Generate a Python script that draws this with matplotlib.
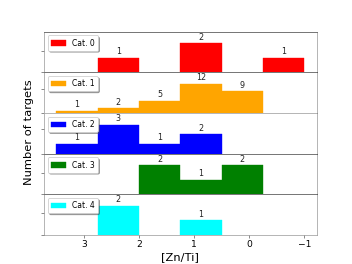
import matplotlib
matplotlib.use("Agg")
import matplotlib.pyplot as plt
from matplotlib.ticker import MaxNLocator
import numpy as np

bin_edges = [3.5, 2.75, 2.0, 1.25, 0.5, -0.25, -1.0]
categories = ["Cat. 0", "Cat. 1", "Cat. 2", "Cat. 3", "Cat. 4"]
colors = ["red", "orange", "blue", "green", "cyan"]
counts_cat0 = [0, 1, 0, 2, 0, 1]
counts_cat1 = [1, 2, 5, 12, 9, 0]
counts_cat2 = [1, 3, 1, 2, 0, 0]
counts_cat3 = [0, 0, 2, 1, 2, 0]
counts_cat4 = [0, 2, 0, 1, 0, 0]
all_counts = [counts_cat0, counts_cat1, counts_cat2, counts_cat3, counts_cat4]
xticks = [3, 2, 1, 0, -1]

fig, axes = plt.subplots(5, 1, sharex=True, figsize=(6.4, 4.8), dpi=55)
fig.subplots_adjust(hspace=0, left=0.125, right=0.9, top=0.88, bottom=0.11)

edges = np.array(bin_edges)
lefts = edges[:-1]
widths = edges[1:] - edges[:-1]
top_colors = ["#222222", "#222222", "#888888", "#222222", "#222222"]

for i, ax in enumerate(axes):
    c = np.array(all_counts[i])
    mask = c > 0
    ax.bar(lefts[mask], c[mask], width=widths[mask], align="edge",
           color=colors[i], edgecolor=colors[i], linewidth=0.5, label=categories[i])
    for l, w, v in zip(lefts[mask], widths[mask], c[mask]):
        ax.annotate(str(v), (l + w / 2, v), xytext=(0, 2), textcoords="offset points",
                    ha="center", va="bottom", fontsize=10.5, color="#222222")
    ax.set_ylim(0, c.max() * 1.4)
    ax.yaxis.set_major_locator(MaxNLocator(nbins=2))
    ax.set_yticklabels([])
    ax.tick_params(axis="y", colors="#444444", labelsize=12)
    for s in ["left", "right", "bottom"]:
        ax.spines[s].set_color("#888888")
    ax.spines["top"].set_color(top_colors[i])
    ax.legend(loc="upper left", shadow=True, fancybox=True, fontsize=10,
              framealpha=1)
    if i < 4:
        ax.tick_params(axis="x", bottom=False)

axes[-1].set_xticks(xticks)
axes[-1].set_xticklabels(["3", "2", "1", "0", "\u22121"])
axes[-1].tick_params(axis="x", labelsize=12, colors="#444444", labelcolor="black")
axes[-1].invert_xaxis()
axes[-1].set_xlabel("[Zn/Ti]", fontsize=15)
fig.text(29 / 352, 0.5, "Number of targets", rotation=90, ha="center",
         va="center", fontsize=15)

fig.savefig("out.png", dpi=55)
